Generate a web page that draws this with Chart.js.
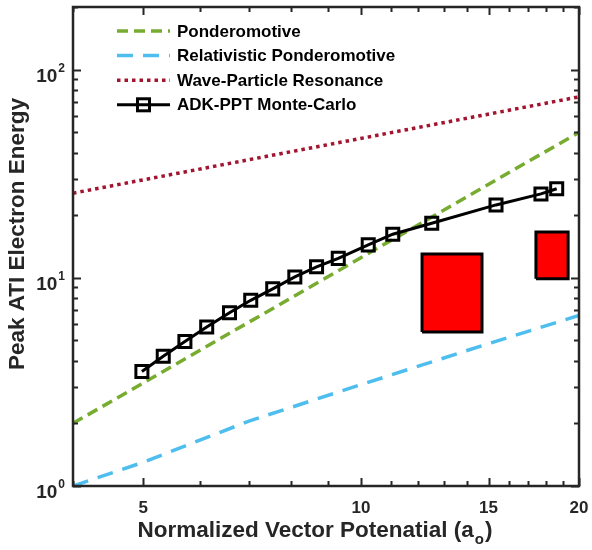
<!DOCTYPE html>
<html>
<head>
<meta charset="utf-8">
<script src="https://cdn.jsdelivr.net/npm/chart.js@4.4.0/dist/chart.umd.min.js"></script>
<style>
  html, body { margin: 0; padding: 0; background: #fff; }
  #wrap { width: 592px; height: 550px; }
</style>
</head>
<body>
<div id="wrap"><canvas id="chart" width="592" height="550"></canvas></div>
<script>
// values (both axes logarithmic)
const ponderomotiveX = [4, 20];
const ponderomotiveY = [2.0, 50];
const relPonderomotiveX = [4, 5, 7, 10, 15, 20];
const relPonderomotiveY = [1.0, 1.3, 2.05, 3.07, 4.83, 6.6];
const resonanceX = [4, 20];
const resonanceY = [25.5, 74];
const adkX = [4.98, 5.33, 5.71, 6.12, 6.58, 7.04, 7.55, 8.1, 8.68, 9.3, 10.23, 11.06, 12.52, 15.36, 17.72, 18.63];
const adkY = [3.55, 4.2, 4.95, 5.8, 6.8, 7.8, 8.85, 10.1, 11.3, 12.4, 14.4, 16.2, 18.3, 22.4, 25.3, 26.8];
// measured ranges, drawn as red boxes
const box1X = [12.14, 14.69];
const box1Y = [5.5, 13.0];
const box2X = [17.44, 19.32];
const box2Y = [9.9, 16.6];

const xTicks = [4, 5, 6, 7, 8, 9, 10, 11, 12, 13, 14, 15, 16, 17, 18, 19, 20];
const xMajor = [5, 10, 15, 20];
const yTicks = [1, 2, 3, 4, 5, 6, 7, 8, 9, 10, 20, 30, 40, 50, 60, 70, 80, 90, 100, 200];
const yMajor = [1, 10, 100];
const yExponents = ["0", "1", "2"];

const FONT = "'Liberation Sans', Arial, Helvetica, sans-serif";

const toPoints = (xs, ys) => xs.map((x, i) => ({ x: x, y: ys[i] }));
const boxPoints = (bx, by) => [
  { x: bx[0], y: by[0] }, { x: bx[1], y: by[0] },
  { x: bx[1], y: by[1] }, { x: bx[0], y: by[1] }, { x: bx[0], y: by[0] }
];

// no extra room for overhanging tick labels, the layout padding decides
const noLabelPadding = (axis) => {
  axis.paddingLeft = 0;
  axis.paddingRight = 0;
  axis.paddingTop = 0;
  axis.paddingBottom = 0;
};

// ticks pointing inwards on all four sides, plus the box frame
const frameTicks = {
  id: "frameTicks",
  afterDatasetsDraw(chart) {
    const { ctx, chartArea: a, scales: { x, y } } = chart;
    ctx.save();
    ctx.strokeStyle = "#262626";
    ctx.lineWidth = 2;
    ctx.beginPath();
    xTicks.forEach((v) => {
      const px = Math.round(x.getPixelForValue(v)) + 0.5;
      const len = xMajor.includes(v) ? 8 : 5;
      ctx.moveTo(px, a.bottom); ctx.lineTo(px, a.bottom - len);
      ctx.moveTo(px, a.top); ctx.lineTo(px, a.top + len);
    });
    yTicks.forEach((v) => {
      const py = Math.round(y.getPixelForValue(v)) + 0.5;
      const len = yMajor.includes(v) ? 8 : 5;
      ctx.moveTo(a.left, py); ctx.lineTo(a.left + len, py);
      ctx.moveTo(a.right, py); ctx.lineTo(a.right - len, py);
    });
    ctx.stroke();
    ctx.lineWidth = 2.5;
    ctx.strokeRect(a.left, a.top, a.right - a.left, a.bottom - a.top);
    ctx.restore();
  },
  afterDraw(chart) {
    const { ctx, chartArea: a, scales: { y } } = chart;
    ctx.save();
    ctx.fillStyle = "#262626";
    // y tick labels 10^n
    yMajor.forEach((v, i) => {
      const py = y.getPixelForValue(v);
      ctx.font = "bold 12px " + FONT;
      const expW = ctx.measureText(yExponents[i]).width;
      const right = a.left - 8;
      ctx.textAlign = "right";
      ctx.textBaseline = "alphabetic";
      ctx.fillText(yExponents[i], right, py + 2);
      ctx.font = "bold 19px " + FONT;
      ctx.fillText("10", right - expW - 1, py + 12);
    });

    // y axis title
    ctx.save();
    ctx.translate(18, 234);
    ctx.rotate(-Math.PI / 2);
    ctx.font = "bold 22.5px " + FONT;
    ctx.textAlign = "center";
    ctx.textBaseline = "middle";
    ctx.fillText("Peak ATI Electron Energy", 0, 0);
    ctx.restore();

    // x axis title with subscript
    const main = "Normalized Vector Potenatial (a";
    const sub = "o";
    const close = ")";
    ctx.font = "bold 22.5px " + FONT;
    const wMain = ctx.measureText(main).width;
    const wClose = ctx.measureText(close).width;
    ctx.font = "bold 15px " + FONT;
    const wSub = ctx.measureText(sub).width;
    const cx = (a.left + a.right) / 2 - 12;
    const tx = cx - (wMain + wSub + wClose) / 2;
    const base = 537;
    ctx.textAlign = "left";
    ctx.font = "bold 22.5px " + FONT;
    ctx.fillText(main, tx, base);
    ctx.font = "bold 15px " + FONT;
    ctx.fillText(sub, tx + wMain + 1, base + 7);
    ctx.font = "bold 22.5px " + FONT;
    ctx.fillText(close, tx + wMain + wSub + 2, base);
    ctx.restore();
  }
};

// legend drawn inside the axes, top left, no box
const insideLegend = {
  id: "insideLegend",
  afterDraw(chart) {
    const { ctx, chartArea: a } = chart;
    const items = chart.data.datasets.filter((d) => d.inLegend);
    const x0 = a.left + 44;
    const x1 = x0 + 53;
    ctx.save();
    items.forEach((d, i) => {
      const yy = a.top + 24 + i * 24.6;
      ctx.strokeStyle = d.borderColor;
      ctx.lineWidth = d.borderWidth;
      ctx.setLineDash(d.borderDash || []);
      ctx.beginPath();
      ctx.moveTo(x0, yy);
      ctx.lineTo(x1, yy);
      ctx.stroke();
      ctx.setLineDash([]);
      if (d.pointRadius > 0) {
        const s = d.pointRadius * Math.SQRT1_2;
        ctx.lineWidth = d.pointBorderWidth;
        ctx.fillStyle = "#fff";
        ctx.strokeRect((x0 + x1) / 2 - s, yy - s, 2 * s, 2 * s);
      }
      ctx.fillStyle = "#000";
      ctx.font = "bold 17px " + FONT;
      ctx.textAlign = "left";
      ctx.textBaseline = "middle";
      ctx.fillText(d.label, x1 + 7, yy + 1);
    });
    ctx.restore();
  }
};

new Chart(document.getElementById("chart"), {
  type: "line",
  data: {
    datasets: [
      {
        label: "Ponderomotive",
        inLegend: true,
        data: toPoints(ponderomotiveX, ponderomotiveY),
        borderColor: "#77AC30",
        borderWidth: 3.5,
        borderDash: [11, 6],
        pointRadius: 0,
        order: 1
      },
      {
        label: "Relativistic Ponderomotive",
        inLegend: true,
        data: toPoints(relPonderomotiveX, relPonderomotiveY),
        borderColor: "#4DBEEE",
        borderWidth: 3.5,
        borderDash: [16, 10],
        pointRadius: 0,
        order: 1
      },
      {
        label: "Wave-Particle Resonance",
        inLegend: true,
        data: toPoints(resonanceX, resonanceY),
        borderColor: "#A2142F",
        borderWidth: 3.5,
        borderDash: [3.5, 4],
        pointRadius: 0,
        order: 1
      },
      {
        label: "ADK-PPT Monte-Carlo",
        inLegend: true,
        data: toPoints(adkX, adkY),
        borderColor: "#000",
        borderWidth: 3,
        pointStyle: "rect",
        pointRadius: 8.5,
        pointBorderWidth: 3,
        pointBorderColor: "#000",
        pointBackgroundColor: "rgba(0,0,0,0)",
        order: 0
      },
      {
        label: "box1",
        data: boxPoints(box1X, box1Y),
        borderColor: "#000",
        borderWidth: 3,
        borderJoinStyle: "miter",
        backgroundColor: "#FF0000",
        fill: "shape",
        pointRadius: 0,
        order: 2
      },
      {
        label: "box2",
        data: boxPoints(box2X, box2Y),
        borderColor: "#000",
        borderWidth: 3,
        borderJoinStyle: "miter",
        backgroundColor: "#FF0000",
        fill: "shape",
        pointRadius: 0,
        order: 2
      }
    ]
  },
  options: {
    responsive: false,
    animation: false,
    layout: { autoPadding: false, padding: { left: 0, right: 13, top: 7, bottom: 0 } },
    plugins: {
      legend: { display: false },
      tooltip: { enabled: false }
    },
    scales: {
      x: {
        type: "logarithmic",
        min: 4,
        max: 20,
        grid: { display: false, drawTicks: false },
        border: { display: false },
        afterBuildTicks: (axis) => { axis.ticks = xTicks.map((v) => ({ value: v })); },
        afterFit: (axis) => { axis.height = 64; noLabelPadding(axis); },
        ticks: {
          autoSkip: false,
          maxRotation: 0,
          padding: 12,
          color: "#262626",
          font: { family: FONT, size: 17, weight: "bold" },
          callback: (v) => (xMajor.includes(v) ? String(v) : "")
        }
      },
      y: {
        type: "logarithmic",
        min: 1,
        max: 200,
        grid: { display: false, drawTicks: false },
        border: { display: false },
        afterBuildTicks: (axis) => { axis.ticks = yTicks.map((v) => ({ value: v })); },
        afterFit: (axis) => { axis.width = 73; noLabelPadding(axis); },
        ticks: { display: false }
      }
    }
  },
  plugins: [frameTicks, insideLegend]
});
</script>
</body>
</html>
